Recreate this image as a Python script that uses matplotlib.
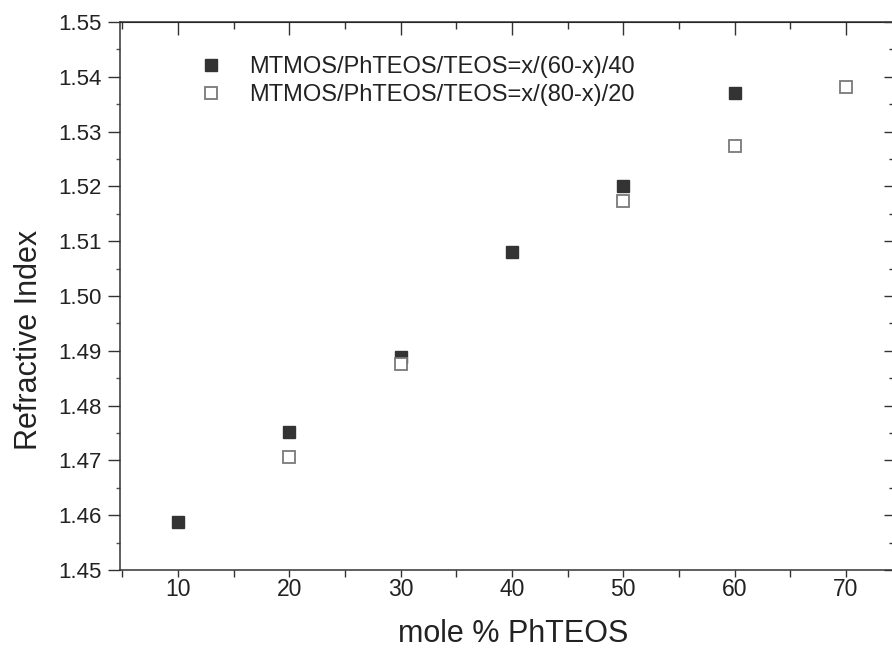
import matplotlib
matplotlib.use("Agg")
import matplotlib.pyplot as plt
from matplotlib.ticker import MultipleLocator

plt.rcParams['font.family'] = ['Liberation Sans', 'DejaVu Sans']

# Data
x_series1 = [10, 20, 30, 40, 50, 60]
y_series1 = [1.4588, 1.4752, 1.4889, 1.5081, 1.5201, 1.5370]
x_series2 = [20, 30, 50, 60, 70]
y_series2 = [1.4706, 1.4876, 1.5173, 1.5274, 1.5382]
label1 = "MTMOS/PhTEOS/TEOS=x/(60-x)/40"
label2 = "MTMOS/PhTEOS/TEOS=x/(80-x)/20"
xticks = [10, 20, 30, 40, 50, 60, 70]
yticks = [1.45, 1.46, 1.47, 1.48, 1.49, 1.50, 1.51, 1.52, 1.53, 1.54, 1.55]

fig = plt.figure(figsize=(8.92, 6.58), dpi=100)
W, H = 892, 658
xmin, xmax = 4.8, 74.5
left_px, right_px = 120, 896
bottom_px, top_px = 570, 22
ax = fig.add_axes([left_px / W, 1 - bottom_px / H, (right_px - left_px) / W, (bottom_px - top_px) / H])

ax.plot(x_series1, y_series1, linestyle='none', marker='s', markersize=8,
        markerfacecolor='#333333', markeredgecolor='#333333', label=label1)
ax.plot(x_series2, y_series2, linestyle='none', marker='s', markersize=8,
        markerfacecolor='white', markeredgecolor='#7a7a7a', markeredgewidth=1.3, label=label2)

ax.set_xlim(xmin, xmax)
ax.set_ylim(1.45, 1.55)
ax.set_xticks(xticks)
ax.set_yticks(yticks)
ax.set_yticklabels([f"{v:.2f}" for v in yticks])
ax.xaxis.set_minor_locator(MultipleLocator(5))
ax.yaxis.set_minor_locator(MultipleLocator(0.005))

for s in ax.spines.values():
    s.set_linewidth(1.1)
    s.set_color('#333333')

ax.tick_params(axis='both', which='major', direction='out',
               colors='#333333', labelcolor='#222222', width=1.0)
ax.tick_params(axis='y', which='major', length=9, pad=4, labelsize=16)
ax.tick_params(axis='y', which='minor', direction='out', length=3, width=1.0, colors='#555555')
ax.tick_params(axis='x', which='major', length=5, pad=1, labelsize=16.5)
ax.tick_params(axis='x', which='minor', direction='out', length=5, width=1.0, colors='#333333')

# Top and right inward ticks
secx = ax.secondary_xaxis('top')
secx.set_xticks(xticks)
secx.xaxis.set_minor_locator(MultipleLocator(5))
secx.tick_params(axis='x', which='major', direction='in', length=9, width=1.0,
                 labeltop=False, colors='#333333')
secx.tick_params(axis='x', which='minor', direction='in', length=5, width=1.0, colors='#333333')
secy = ax.secondary_yaxis('right')
secy.set_yticks(yticks)
secy.yaxis.set_minor_locator(MultipleLocator(0.005))
secy.tick_params(axis='y', which='major', direction='in', length=9, width=1.0,
                 labelright=False, colors='#333333')
secy.tick_params(axis='y', which='minor', direction='in', length=5, width=1.0, colors='#333333')

ax.set_xlabel("mole % PhTEOS", fontsize=22, color='#222222')
ax.set_ylabel("Refractive Index", fontsize=22, color='#222222')
# label centres (pixel positions converted to axes coords)
ax.xaxis.set_label_coords((513 - left_px) / (right_px - left_px), (bottom_px - 634) / (bottom_px - top_px))
ax.yaxis.set_label_coords((29 - left_px) / (right_px - left_px), (bottom_px - 340) / (bottom_px - top_px))
ax.xaxis.label.set_va('center')
ax.yaxis.label.set_va('center')

leg = ax.legend(loc='upper left', bbox_to_anchor=(0.093, 0.955), frameon=False,
                fontsize=17, handlelength=0.8, handletextpad=1.2, labelspacing=0.25,
                borderaxespad=0)
for t in leg.get_texts():
    t.set_color('#222222')

fig.savefig("out.png", dpi=100)
